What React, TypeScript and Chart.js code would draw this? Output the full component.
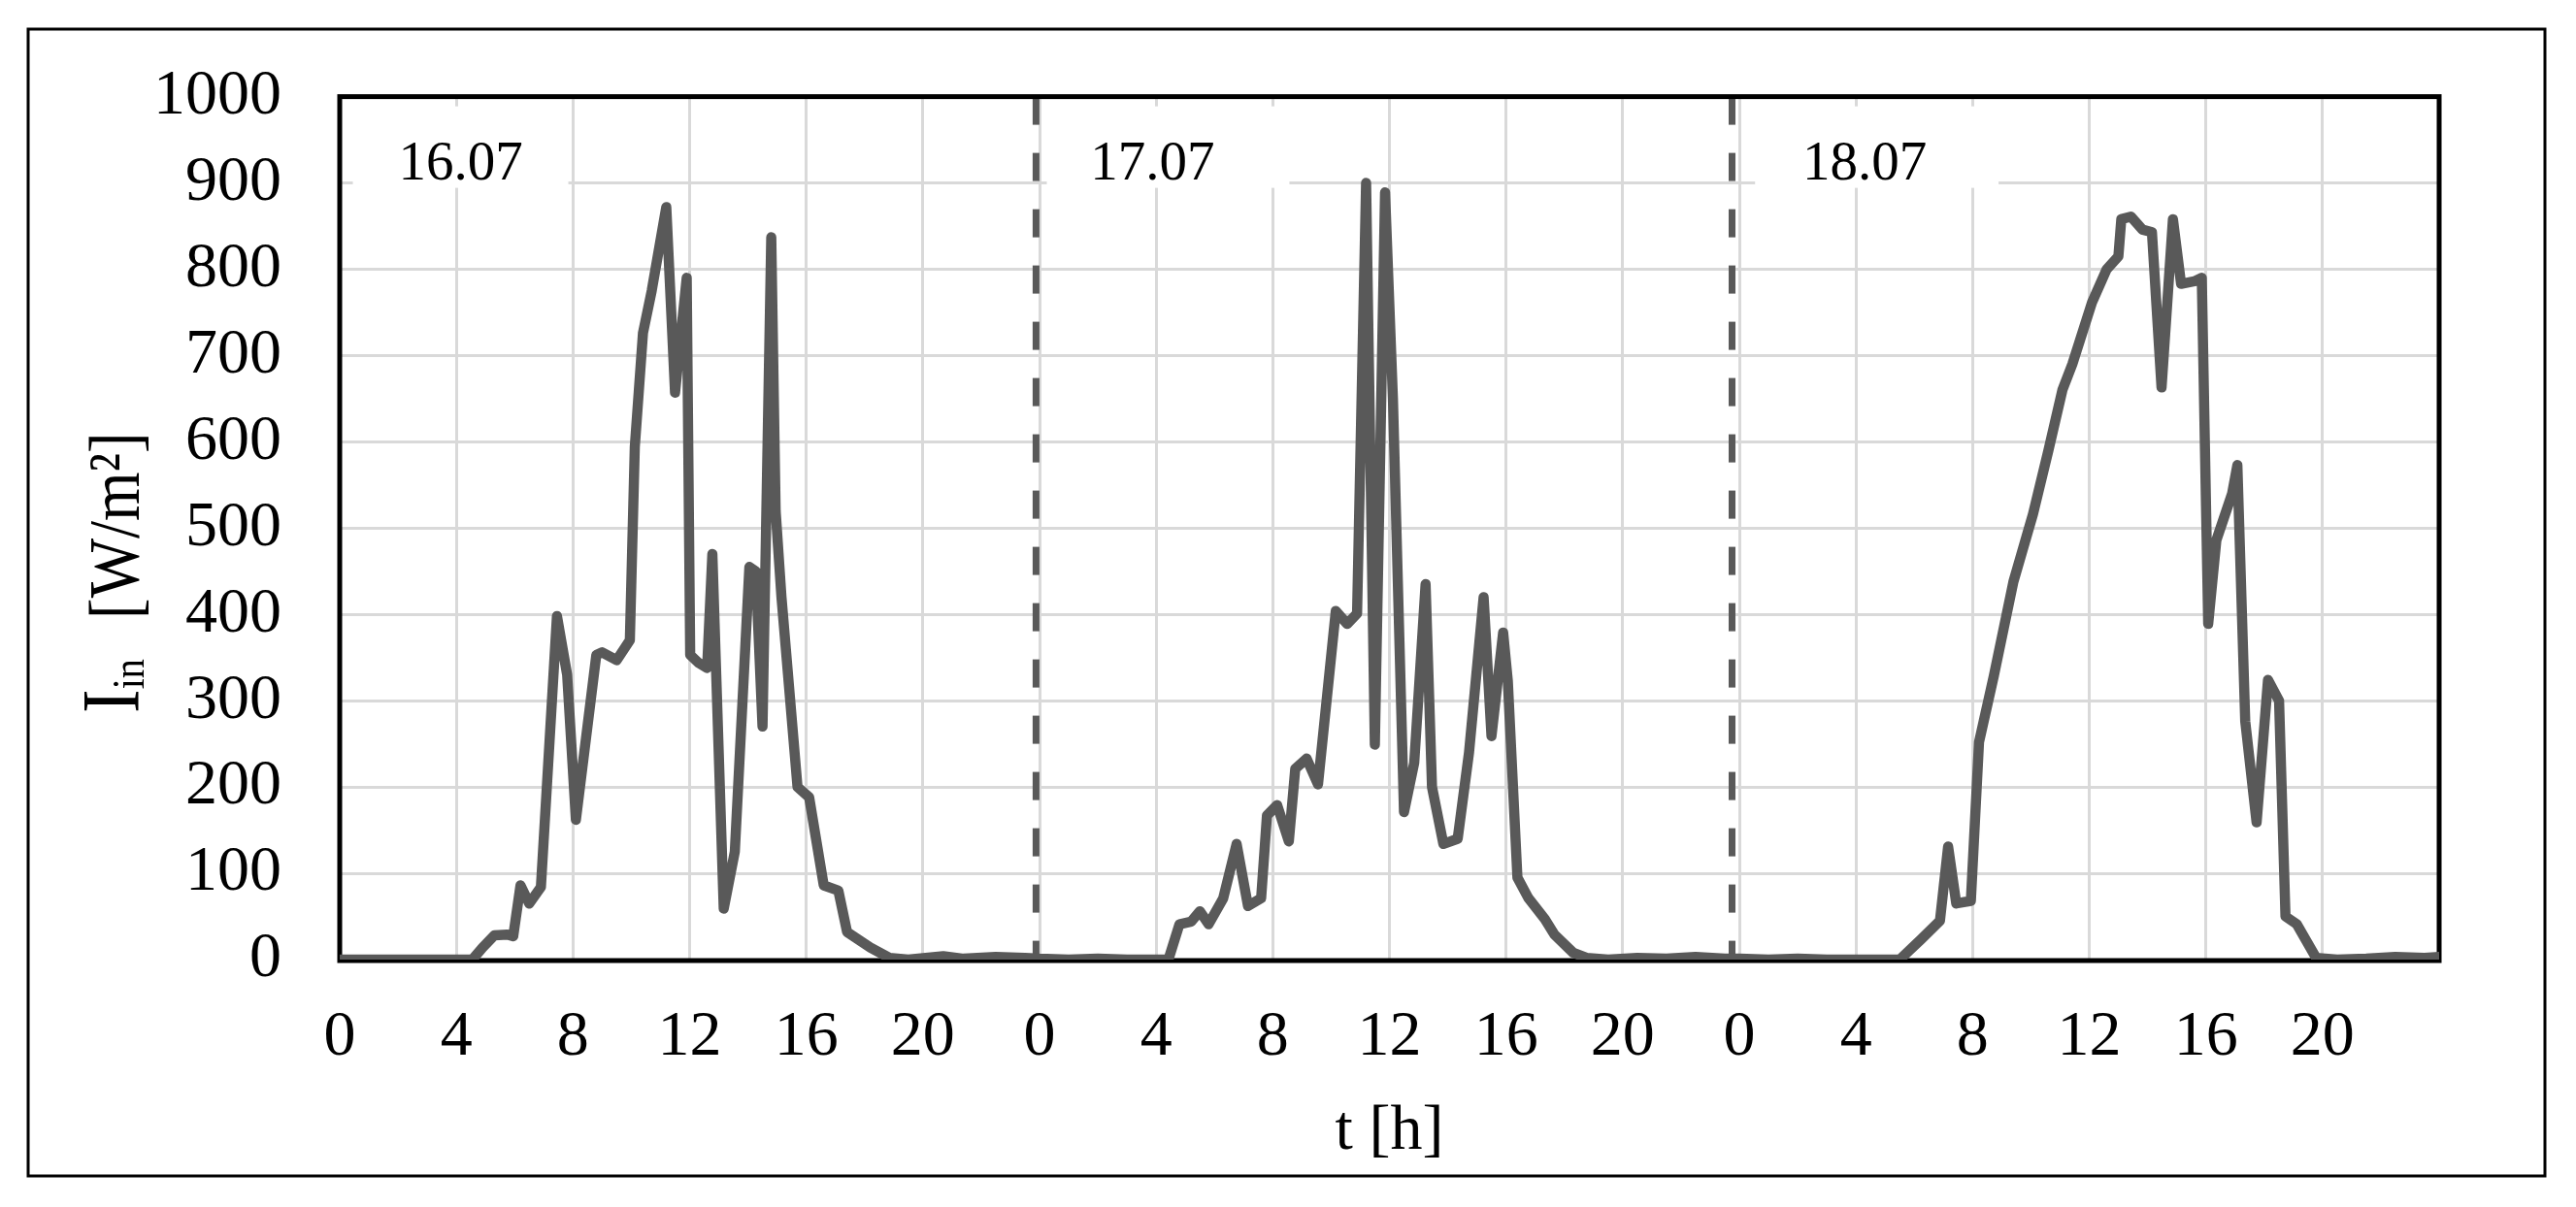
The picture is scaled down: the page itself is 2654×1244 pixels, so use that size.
import React, { useEffect, useRef } from 'react';
import { Chart, registerables } from 'chart.js';

Chart.register(...registerables);

const CANVAS_W = 2654;
const CANVAS_H = 1244;
const FONT = "'Liberation Serif', 'Times New Roman', serif";

// ---- data (hours of the day, irradiance W/m²) ----
const dayLabels = ['16.07', '17.07', '18.07'];
const dayStarts = [0, 24, 48];
const dayDividers = [23.88, 47.75];

const day1Hours = [0, 1, 2, 3, 4, 4.55, 4.9, 5.3, 5.75, 5.95, 6.2, 6.5, 6.9, 7.45, 7.8, 8.1, 8.8, 9.0, 9.5, 9.95, 10.12, 10.4, 10.7, 11.2, 11.5, 11.9, 12.02, 12.3, 12.6, 12.78, 13.17, 13.55, 14.05, 14.27, 14.5, 14.8, 14.95, 15.15, 15.7, 16.1, 16.6, 17.1, 17.4, 18.2, 18.85, 19.5, 20.7, 21.4, 22.5, 23.5];
const day1Values = [0, 0, 0, 0, 0, 0, 14, 28, 29, 27, 86, 65, 84, 398, 330, 162, 353, 356, 347, 370, 594, 726, 775, 872, 657, 790, 353, 344, 338, 470, 59, 125, 455, 450, 270, 837, 520, 420, 200, 188, 86, 80, 32, 14, 2, 0, 4, 1, 3, 2];

const day2Hours = [0, 1, 2, 3, 4, 4.42, 4.8, 5.2, 5.5, 5.8, 6.3, 6.76, 7.15, 7.6, 7.8, 8.15, 8.55, 8.77, 9.16, 9.55, 10.16, 10.55, 10.89, 11.2, 11.5, 11.85, 12.12, 12.5, 12.85, 13.24, 13.46, 13.85, 14.34, 14.73, 15.23, 15.5, 15.9, 16.06, 16.39, 16.77, 17.33, 17.66, 18.3, 18.76, 19.5, 20.5, 21.5, 22.5, 23.5];
const day2Values = [1, 0, 1, 0, 0, 0, 41, 44, 56, 41, 71, 134, 62, 71, 167, 179, 137, 221, 233, 203, 404, 389, 401, 900, 249, 889, 650, 171, 228, 435, 200, 134, 140, 240, 420, 259, 379, 323, 95, 71, 47, 29, 8, 2, 0, 2, 1, 3, 1];

const day3Hours = [0, 1, 2, 3, 4, 5, 5.5, 6.25, 6.88, 7.16, 7.44, 7.94, 8.22, 8.73, 9.4, 10.07, 10.6, 11.08, 11.42, 12.1, 12.6, 13.0, 13.1, 13.43, 13.82, 14.15, 14.48, 14.87, 15.15, 15.6, 15.86, 16.08, 16.36, 16.9, 17.08, 17.35, 17.74, 18.13, 18.51, 18.73, 19.12, 19.78, 20.5, 21.5, 22.5, 23.5, 24];
const day3Values = [1, 0, 1, 0, 0, 0, 0, 24, 45, 131, 65, 68, 252, 329, 438, 516, 590, 660, 690, 762, 800, 815, 858, 861, 846, 843, 663, 858, 783, 786, 790, 389, 486, 540, 573, 276, 159, 324, 300, 50, 41, 2, 0, 1, 3, 2, 3];

const xMin = 0;
const xMax = 72;
const xStep = 4;
const yMin = 0;
const yMax = 1000;
const yStep = 100;

const dayHours = [day1Hours, day2Hours, day3Hours];
const dayValues = [day1Values, day2Values, day3Values];

function buildPoints() {
  const pts: { x: number; y: number }[] = [];
  dayHours.forEach((hrs, d) => {
    hrs.forEach((h, i) => pts.push({ x: dayStarts[d] + h, y: dayValues[d][i] }));
  });
  return pts;
}

// label box extents (hours relative to day start) – layout only
const labelBoxes = [
  { from: 0.45, to: 7.84, text: 4.15 },
  { from: 0.25, to: 8.57, text: 3.87 },
  { from: 0.54, to: 8.89, text: 4.3 },
];

const decorPlugin = {
  id: 'decor',
  beforeDraw(chart: any) {
    const ctx = chart.ctx;
    ctx.save();
    ctx.fillStyle = '#ffffff';
    ctx.fillRect(0, 0, chart.width, chart.height);
    ctx.restore();
  },
  beforeDatasetsDraw(chart: any) {
    const { ctx, chartArea: a } = chart;
    const x = chart.scales.x;
    ctx.save();
    labelBoxes.forEach((b, i) => {
      const x0 = x.getPixelForValue(dayStarts[i] + b.from);
      const x1 = x.getPixelForValue(dayStarts[i] + b.to);
      ctx.fillStyle = '#ffffff';
      ctx.fillRect(x0, a.top + 10, x1 - x0, 84);
      ctx.fillStyle = '#000000';
      ctx.font = `57px ${FONT}`;
      ctx.textAlign = 'center';
      ctx.textBaseline = 'alphabetic';
      ctx.fillText(dayLabels[i], x.getPixelForValue(dayStarts[i] + b.text), a.top + 85);
    });
    ctx.strokeStyle = '#595959';
    ctx.lineWidth = 7;
    ctx.setLineDash([29, 29]);
    dayDividers.forEach((d) => {
      const px = x.getPixelForValue(d);
      ctx.beginPath();
      ctx.moveTo(px, a.top);
      ctx.lineTo(px, a.bottom);
      ctx.stroke();
    });
    ctx.setLineDash([]);
    ctx.strokeStyle = '#000000';
    ctx.lineWidth = 5;
    ctx.strokeRect(a.left, a.top, a.right - a.left, a.bottom - a.top + 1);
    ctx.restore();
  },
  afterDraw(chart: any) {
    const ctx = chart.ctx;
    ctx.save();
    ctx.strokeStyle = '#000000';
    ctx.lineWidth = 3;
    ctx.strokeRect(29, 30, 2593, 1182);
    // y axis title
    ctx.translate(143, 735);
    ctx.rotate(-Math.PI / 2);
    ctx.scale(1, 1.15);
    ctx.fillStyle = '#000000';
    ctx.textAlign = 'left';
    ctx.textBaseline = 'alphabetic';
    ctx.font = `74px ${FONT}`;
    ctx.fillText('I', 0, 0);
    const iw = ctx.measureText('I').width;
    ctx.font = `40px ${FONT}`;
    ctx.fillText('in', iw, 4.5);
    ctx.font = `65px ${FONT}`;
    ctx.fillText('[W/m²]', 97, 0);
    ctx.restore();
  },
};

export default function App() {
  const ref = useRef<HTMLCanvasElement | null>(null);
  useEffect(() => {
    if (!ref.current) return;
    const chart = new Chart(ref.current, {
      type: 'line',
      data: {
        datasets: [
          {
            data: buildPoints(),
            borderColor: '#595959',
            borderWidth: 10.5,
            borderJoinStyle: 'round',
            borderCapStyle: 'round',
            pointRadius: 0,
            tension: 0,
            fill: false,
          },
        ],
      },
      options: {
        animation: false,
        responsive: false,
        devicePixelRatio: 1,
        parsing: false as any,
        layout: { padding: { left: 40, right: 141, top: 88, bottom: 30 } },
        plugins: { legend: { display: false }, tooltip: { enabled: false }, title: { display: false } },
        scales: {
          x: {
            type: 'linear',
            min: xMin,
            max: xMax,
            afterFit: (s: any) => { s.height = 225; },
            ticks: {
              stepSize: xStep,
              autoSkip: false,
              maxRotation: 0,
              padding: 41,
              color: '#000000',
              font: { family: FONT, size: 66 },
              callback: (v: any) => (Number(v) >= xMax ? '' : String(Number(v) % 24)),
            },
            grid: { color: '#d9d9d9', lineWidth: 3, drawTicks: false },
            border: { display: false },
            title: {
              display: true,
              text: 't [h]',
              color: '#000000',
              font: { family: FONT, size: 66 },
              padding: { top: 0, bottom: 8 },
            },
          },
          y: {
            type: 'linear',
            min: yMin,
            max: yMax,
            afterFit: (s: any) => { s.width = 310; },
            ticks: {
              stepSize: yStep,
              padding: 60,
              color: '#000000',
              font: { family: FONT, size: 66 },
              callback: (v: any) => String(v),
            },
            grid: { color: '#d9d9d9', lineWidth: 3, drawTicks: false },
            border: { display: false },
          },
        },
      },
      plugins: [decorPlugin],
    } as any);
    return () => chart.destroy();
  }, []);
  return (
    <div style={{ position: 'absolute', left: 0, top: 0, width: CANVAS_W, height: CANVAS_H, background: '#fff' }}>
      <canvas ref={ref} width={CANVAS_W} height={CANVAS_H} style={{ display: 'block', width: CANVAS_W, height: CANVAS_H }} />
    </div>
  );
}
